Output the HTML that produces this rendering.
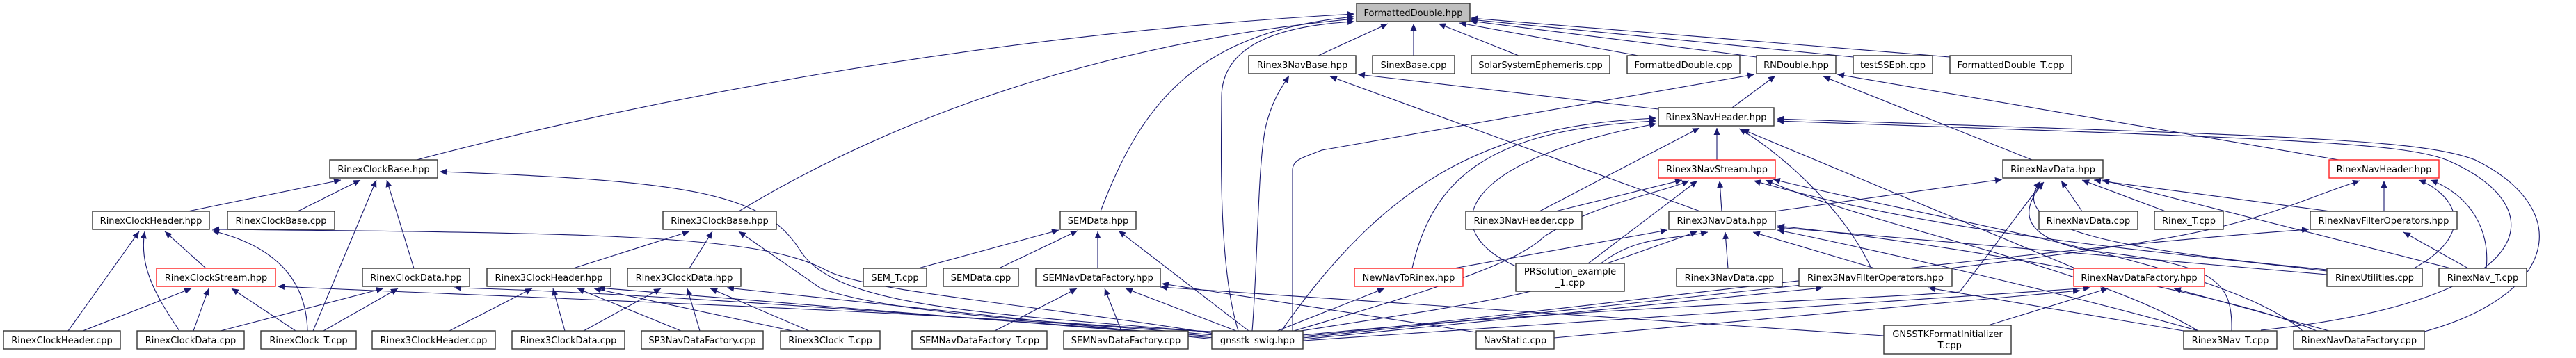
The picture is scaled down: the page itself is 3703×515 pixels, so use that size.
<!DOCTYPE html>
<html><head><meta charset="utf-8"><style>
html,body{margin:0;padding:0;background:#fff}
svg{display:block}
text{font-family:"DejaVu Sans","Liberation Sans",sans-serif;font-size:13px;fill:#000}
.e{fill:none;stroke:#191970;stroke-width:1.1;marker-end:url(#a)}
.n{fill:#fff;stroke:#333;stroke-width:1.4}
.r{fill:#fff;stroke:#ff2020;stroke-width:1.4}
</style></head><body>
<svg width="3703" height="515" viewBox="0 0 3703 515" xmlns="http://www.w3.org/2000/svg">
<defs><marker id="a" markerUnits="userSpaceOnUse" markerWidth="11" markerHeight="10" refX="10" refY="4.5" orient="auto"><path d="M0,0 L10,4.5 L0,9 z" fill="#191970"/></marker></defs>
<g>
<!-- into FormattedDouble.hpp -->
<path class="e" d="M1895,80 L1995,34"/>
<path class="e" d="M2032,80 L2032,34"/>
<path class="e" d="M2183,80 L2068,34"/>
<path class="e" d="M2355,80 L2098,33"/>
<path class="e" d="M2525,82 L2113,30"/>
<path class="e" d="M2664,82 L2114,28"/>
<path class="e" d="M2803,82 L2114,26"/>
<path class="e" d="M599,230 C900,150 1400,50 1947,20"/>
<path class="e" d="M1062,304 C1300,160 1600,60 1947,27"/>
<path class="e" d="M1582,304 C1640,150 1720,45 1947,24"/>
<path class="e" d="M1780,476 C1750,380 1756,200 1756,140 C1756,60 1850,36 1947,31"/>
<!-- into Rinex3NavBase.hpp -->
<path class="e" d="M1800,476 C1808,380 1808,230 1820,180 C1830,140 1845,122 1853,109"/>
<path class="e" d="M2384,157 L1952,107"/>
<path class="e" d="M2444,304 L1912,110"/>
<!-- into RNDouble.hpp -->
<path class="e" d="M2490,155 L2552,109"/>
<path class="e" d="M1858,476 L1858,245 C1858,230 1870,228 1900,216 L2522,107"/>
<path class="e" d="M2921,230 L2621,110"/>
<path class="e" d="M3362,230 L2641,107"/>
<!-- into Rinex3NavHeader.hpp -->
<path class="e" d="M2468,230 L2468,184"/>
<path class="e" d="M2213,304 L2443,184"/>
<path class="e" d="M2690,386 C2650,300 2560,220 2500,185"/>
<path class="e" d="M1842,476 C2000,250 2150,180 2381,170"/>
<path class="e" d="M2030,386 C2060,250 2150,185 2381,174"/>
<path class="e" d="M2179,383 C2060,330 2100,230 2381,178"/>
<path class="e" d="M2983,386 L2504,186"/>
<path class="e" d="M3250,475 C3650,433 3680,300 3517,230 C3450,205 3300,200 2554,174"/>
<path class="e" d="M3485,477 C3680,423 3700,300 3558,230 C3480,200 3300,196 2554,171"/>
<!-- into Rinex3NavStream.hpp -->
<path class="e" d="M2236,304 L2418,259"/>
<path class="e" d="M2475,304 L2472,260"/>
<path class="e" d="M2283,379 L2440,260"/>
<path class="e" d="M1860,476 C2050,420 2180,380 2220,340 C2300,290 2380,280 2428,260"/>
<path class="e" d="M3345,390 C3100,360 2800,340 2521,260"/>
<path class="e" d="M3160,476 C3000,380 2700,330 2538,259"/>
<path class="e" d="M3310,476 C3200,380 2800,320 2549,258"/>
<!-- into Rinex3NavData.hpp -->
<path class="e" d="M2090,386 L2397,331"/>
<path class="e" d="M2310,379 L2440,333"/>
<path class="e" d="M1870,476 C2100,440 2250,420 2300,380 C2350,340 2400,345 2455,334"/>
<path class="e" d="M2484,386 L2480,334"/>
<path class="e" d="M2695,386 L2520,334"/>
<path class="e" d="M3345,395 L2555,327"/>
<path class="e" d="M3160,476 C3000,430 2700,360 2555,331"/>
<path class="e" d="M3330,476 C3200,420 2800,350 2555,325"/>
<path class="e" d="M2551,304 L2878,258"/>
<!-- into RinexNavData.hpp -->
<path class="e" d="M2993,304 L2963,260"/>
<path class="e" d="M3113,304 L2993,259"/>
<path class="e" d="M3350,304 L3010,259"/>
<path class="e" d="M3523,386 L3022,259"/>
<path class="e" d="M3345,388 C3050,360 2880,330 2933,261"/>
<path class="e" d="M1873,482 C2300,440 2700,430 2817,420 L2936,262"/>
<path class="e" d="M3208,476 C3210,400 3180,380 3000,360 C2900,340 2905,300 2938,262"/>
<!-- into RinexNavHeader.hpp -->
<path class="e" d="M3427,304 L3427,260"/>
<path class="e" d="M3470,386 C3570,330 3520,275 3477,259"/>
<path class="e" d="M3574,386 C3580,330 3550,280 3494,259"/>
<path class="e" d="M1873,486 C2500,420 2900,380 3100,345 C3250,320 3300,290 3392,260"/>
<!-- into RinexNavFilterOperators.hpp -->
<path class="e" d="M3548,386 L3455,334"/>
<path class="e" d="M1873,484 C2400,430 2900,360 3319,330"/>
<!-- into RinexNavDataFactory.hpp -->
<path class="e" d="M2858,468 L3030,415"/>
<path class="e" d="M3348,476 L3125,415"/>
<path class="e" d="M1873,490 L3005,414"/>
<path class="e" d="M2234,486 L2990,418"/>
<!-- into Rinex3NavFilterOperators.hpp / NewNavToRinex -->
<path class="e" d="M1873,488 L2620,414"/>
<path class="e" d="M3139,476 L2772,414"/>
<path class="e" d="M1836,476 L1990,415"/>
<!-- into SEMNavDataFactory.hpp -->
<path class="e" d="M2122,478 L1670,408"/>
<path class="e" d="M2708,483 L1668,413"/>
<path class="e" d="M1430,476 L1548,415"/>
<path class="e" d="M1612,476 L1588,415"/>
<path class="e" d="M1777,476 L1618,415"/>
<!-- into SEMData.hpp -->
<path class="e" d="M1578,386 L1578,333"/>
<path class="e" d="M1320,386 L1522,331"/>
<path class="e" d="M1436,386 L1549,332"/>
<path class="e" d="M1795,476 L1608,332"/>
<!-- left: RinexClockBase -->
<path class="e" d="M270,304 L490,259"/>
<path class="e" d="M428,304 L518,259"/>
<path class="e" d="M450,476 L541,259"/>
<path class="e" d="M595,386 L556,259"/>
<path class="e" d="M1745,478 C1400,450 1200,440 1150,360 C1100,280 1000,260 632,247"/>
<!-- RinexClockHeader -->
<path class="e" d="M98,476 L200,333"/>
<path class="e" d="M258,476 C220,420 200,380 208,333"/>
<path class="e" d="M296,386 L237,333"/>
<path class="e" d="M442,476 C440,390 380,350 305,332"/>
<path class="e" d="M1745,480 C1500,440 1250,420 1190,390 C1100,340 900,335 305,330"/>
<!-- RinexClockStream -->
<path class="e" d="M119,476 L275,415"/>
<path class="e" d="M278,476 L300,415"/>
<path class="e" d="M425,476 L333,415"/>
<path class="e" d="M1745,482 C1400,450 800,430 399,412"/>
<!-- RinexClockData.hpp -->
<path class="e" d="M317,476 L551,415"/>
<path class="e" d="M465,476 L572,415"/>
<path class="e" d="M1745,484 C1300,450 900,420 653,414"/>
<!-- Rinex3ClockBase -->
<path class="e" d="M824,386 L991,333"/>
<path class="e" d="M991,386 L1024,333"/>
<path class="e" d="M1742,477 C1400,460 1250,440 1180,415 L1062,333"/>
<!-- Rinex3ClockHeader -->
<path class="e" d="M646,476 L765,415"/>
<path class="e" d="M812,476 L795,415"/>
<path class="e" d="M979,476 L830,415"/>
<path class="e" d="M1139,476 L854,415"/>
<path class="e" d="M1745,486 L860,414"/>
<!-- Rinex3ClockData -->
<path class="e" d="M839,476 L950,415"/>
<path class="e" d="M1006,476 L988,415"/>
<path class="e" d="M1163,476 L1021,415"/>
<path class="e" d="M1745,488 L1045,414"/>
</g>
<g>
<rect x="1950" y="5" width="163" height="26" fill="#bfbfbf" stroke="#333" stroke-width="1.4"/><text x="2031.5" y="23" text-anchor="middle">FormattedDouble.hpp</text>
<rect class="n" x="1795" y="80" width="154" height="26"/><text x="1872" y="98" text-anchor="middle">Rinex3NavBase.hpp</text>
<rect class="n" x="1973" y="80" width="118" height="26"/><text x="2032" y="98" text-anchor="middle">SinexBase.cpp</text>
<rect class="n" x="2115" y="80" width="199" height="26"/><text x="2214.5" y="98" text-anchor="middle">SolarSystemEphemeris.cpp</text>
<rect class="n" x="2339" y="80" width="162" height="26"/><text x="2420" y="98" text-anchor="middle">FormattedDouble.cpp</text>
<rect class="n" x="2525" y="80" width="114" height="26"/><text x="2582" y="98" text-anchor="middle">RNDouble.hpp</text>
<rect class="n" x="2664" y="80" width="114" height="26"/><text x="2721" y="98" text-anchor="middle">testSSEph.cpp</text>
<rect class="n" x="2803" y="80" width="175" height="26"/><text x="2890.5" y="98" text-anchor="middle">FormattedDouble_T.cpp</text>
<rect class="n" x="2384" y="155" width="166" height="26"/><text x="2467" y="173" text-anchor="middle">Rinex3NavHeader.hpp</text>
<rect class="n" x="474" y="230" width="155" height="26"/><text x="551.5" y="248" text-anchor="middle">RinexClockBase.hpp</text>
<rect class="r" x="2384" y="230" width="168" height="26"/><text x="2468" y="248" text-anchor="middle">Rinex3NavStream.hpp</text>
<rect class="n" x="2879" y="230" width="144" height="26"/><text x="2951" y="248" text-anchor="middle">RinexNavData.hpp</text>
<rect class="r" x="3348" y="230" width="158" height="26"/><text x="3427" y="248" text-anchor="middle">RinexNavHeader.hpp</text>
<rect class="n" x="133" y="304" width="168" height="26"/><text x="217" y="322" text-anchor="middle">RinexClockHeader.hpp</text>
<rect class="n" x="327" y="304" width="154" height="26"/><text x="404" y="322" text-anchor="middle">RinexClockBase.cpp</text>
<rect class="n" x="953" y="304" width="163" height="26"/><text x="1034.5" y="322" text-anchor="middle">Rinex3ClockBase.hpp</text>
<rect class="n" x="1524" y="304" width="109" height="26"/><text x="1578.5" y="322" text-anchor="middle">SEMData.hpp</text>
<rect class="n" x="2107" y="304" width="167" height="26"/><text x="2190.5" y="322" text-anchor="middle">Rinex3NavHeader.cpp</text>
<rect class="n" x="2399" y="304" width="153" height="26"/><text x="2475.5" y="322" text-anchor="middle">Rinex3NavData.hpp</text>
<rect class="n" x="2931" y="304" width="142" height="26"/><text x="3002" y="322" text-anchor="middle">RinexNavData.cpp</text>
<rect class="n" x="3097" y="304" width="99" height="26"/><text x="3146.5" y="322" text-anchor="middle">Rinex_T.cpp</text>
<rect class="n" x="3321" y="304" width="211" height="26"/><text x="3426.5" y="322" text-anchor="middle">RinexNavFilterOperators.hpp</text>
<rect class="r" x="225" y="386" width="171" height="26"/><text x="310.5" y="404" text-anchor="middle">RinexClockStream.hpp</text>
<rect class="n" x="521" y="386" width="154" height="26"/><text x="598" y="404" text-anchor="middle">RinexClockData.hpp</text>
<rect class="n" x="700" y="386" width="178" height="26"/><text x="789" y="404" text-anchor="middle">Rinex3ClockHeader.hpp</text>
<rect class="n" x="902" y="386" width="163" height="26"/><text x="983.5" y="404" text-anchor="middle">Rinex3ClockData.hpp</text>
<rect class="n" x="1241" y="386" width="91" height="26"/><text x="1286.5" y="404" text-anchor="middle">SEM_T.cpp</text>
<rect class="n" x="1356" y="386" width="108" height="26"/><text x="1410" y="404" text-anchor="middle">SEMData.cpp</text>
<rect class="n" x="1489" y="386" width="179" height="26"/><text x="1578.5" y="404" text-anchor="middle">SEMNavDataFactory.hpp</text>
<rect class="r" x="1947" y="386" width="156" height="26"/><text x="2025" y="404" text-anchor="middle">NewNavToRinex.hpp</text>
<rect class="n" x="2179" y="379" width="156" height="40"/><text x="2257" y="395" text-anchor="middle">PRSolution_example</text><text x="2257" y="411" text-anchor="middle">_1.cpp</text>
<rect class="n" x="2410" y="386" width="152" height="26"/><text x="2486" y="404" text-anchor="middle">Rinex3NavData.cpp</text>
<rect class="n" x="2586" y="386" width="220" height="26"/><text x="2696" y="404" text-anchor="middle">Rinex3NavFilterOperators.hpp</text>
<rect class="r" x="2981" y="386" width="188" height="26"/><text x="3075" y="404" text-anchor="middle">RinexNavDataFactory.hpp</text>
<rect class="n" x="3345" y="386" width="137" height="26"/><text x="3413.5" y="404" text-anchor="middle">RinexUtilities.cpp</text>
<rect class="n" x="3506" y="386" width="126" height="26"/><text x="3569" y="404" text-anchor="middle">RinexNav_T.cpp</text>
<rect class="n" x="5" y="476" width="168" height="26"/><text x="89" y="494" text-anchor="middle">RinexClockHeader.cpp</text>
<rect class="n" x="197" y="476" width="154" height="26"/><text x="274" y="494" text-anchor="middle">RinexClockData.cpp</text>
<rect class="n" x="375" y="476" width="137" height="26"/><text x="443.5" y="494" text-anchor="middle">RinexClock_T.cpp</text>
<rect class="n" x="535" y="476" width="177" height="26"/><text x="623.5" y="494" text-anchor="middle">Rinex3ClockHeader.cpp</text>
<rect class="n" x="736" y="476" width="162" height="26"/><text x="817" y="494" text-anchor="middle">Rinex3ClockData.cpp</text>
<rect class="n" x="922" y="476" width="175" height="26"/><text x="1009.5" y="494" text-anchor="middle">SP3NavDataFactory.cpp</text>
<rect class="n" x="1122" y="476" width="143" height="26"/><text x="1193.5" y="494" text-anchor="middle">Rinex3Clock_T.cpp</text>
<rect class="n" x="1311" y="476" width="194" height="26"/><text x="1408" y="494" text-anchor="middle">SEMNavDataFactory_T.cpp</text>
<rect class="n" x="1529" y="476" width="179" height="26"/><text x="1618.5" y="494" text-anchor="middle">SEMNavDataFactory.cpp</text>
<rect class="n" x="1742" y="476" width="131" height="26"/><text x="1807.5" y="494" text-anchor="middle">gnsstk_swig.hpp</text>
<rect class="n" x="2122" y="476" width="112" height="26"/><text x="2178" y="494" text-anchor="middle">NavStatic.cpp</text>
<rect class="n" x="2708" y="468" width="183" height="41"/><text x="2799.5" y="485" text-anchor="middle">GNSSTKFormatInitializer</text><text x="2799.5" y="501" text-anchor="middle">_T.cpp</text>
<rect class="n" x="3139" y="476" width="134" height="26"/><text x="3206" y="494" text-anchor="middle">Rinex3Nav_T.cpp</text>
<rect class="n" x="3297" y="476" width="188" height="26"/><text x="3391" y="494" text-anchor="middle">RinexNavDataFactory.cpp</text>
</g>
</svg>
</body></html>
